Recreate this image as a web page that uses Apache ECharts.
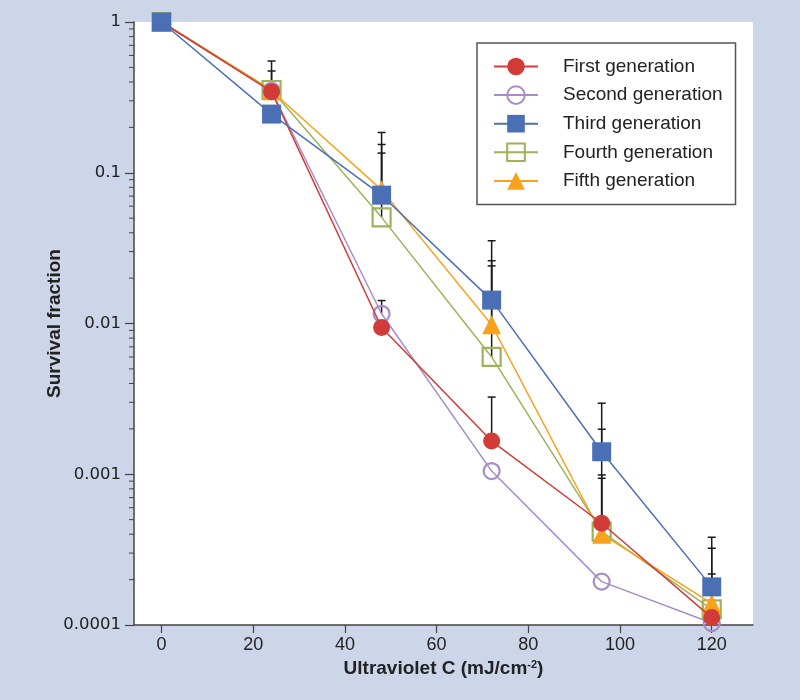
<!DOCTYPE html>
<html>
<head>
<meta charset="utf-8">
<script src="https://cdn.jsdelivr.net/npm/echarts@6/dist/echarts.min.js"></script>
<style>
  html, body { margin: 0; padding: 0; background: #cdd5e8; }
  #chart { width: 800px; height: 700px; }
</style>
</head>
<body>
<div id="chart"></div>
<script>
// ---- data ----
const doses = [0, 24, 48, 72, 96, 120];
const seriesNames = ['First generation', 'Second generation', 'Third generation', 'Fourth generation', 'Fifth generation'];
const firstGen  = [1, 0.345, 0.0094, 0.00166, 0.000473, 0.000112];
const secondGen = [1, 0.35, 0.0116, 0.00105, 0.000194, 0.000103];
const thirdGen  = [1, 0.245, 0.071, 0.0143, 0.00141, 0.000179];
const fourthGen = [1, 0.354, 0.0506, 0.0060, 0.000416, 0.000127];
const fifthGen  = [1, 0.35, 0.077, 0.0098, 0.0004, 0.000139];
// upper ends of the (one-sided) error bars
const firstUpper  = [null, 0.473, null, 0.00325, 0.00099, null];
const secondUpper = [null, null, 0.0142, null, null, 0.000218];
const thirdUpper  = [null, null, 0.185, 0.0354, 0.00296, 0.000382];
const fourthUpper = [null, 0.551, 0.135, 0.0241, 0.00199, null];
const fifthUpper  = [null, null, 0.154, 0.0261, 0.00094, 0.000323];
const xTickValues = [0, 20, 40, 60, 80, 100, 120];
const yTickValues = [0.0001, 0.001, 0.01, 0.1, 1];
const yTickLabels = ['0.0001', '0.001', '0.01', '0.1', '1'];
const X_MIN = -6, X_MAX = 129;

// ---- build ----
const values = [firstGen, secondGen, thirdGen, fourthGen, fifthGen];
const uppers = [firstUpper, secondUpper, thirdUpper, fourthUpper, fifthUpper];
const colors = ['#d13b38', '#a88cc8', '#4a6fb5', '#9db25b', '#f8a21c'];
const symbols = ['circle', 'circle', 'rect', 'rect', 'triangle'];
const sizes = [17, 16, 19, 18, 19];
const hollow = [false, true, false, true, false];
const zs = [6, 3, 7, 4, 5];

const errData = [];
values.forEach((vals, i) => {
  vals.forEach((v, j) => {
    if (uppers[i][j] != null) errData.push([doses[j], v, uppers[i][j]]);
  });
});

const minorData = [];
for (let k = 0; k < yTickValues.length - 1; k++) {
  for (let m = 2; m <= 9; m++) minorData.push([X_MIN, yTickValues[k] * m]);
}

const lineSeries = values.map((vals, i) => ({
  name: seriesNames[i],
  type: 'line',
  z: zs[i],
  color: colors[i],
  data: doses.map((d, j) => [d, vals[j]]),
  symbol: symbols[i],
  symbolSize: sizes[i],
  showAllSymbol: true,
  lineStyle: { color: colors[i], width: 1.5 },
  itemStyle: hollow[i]
    ? { color: 'rgba(255,255,255,0)', borderColor: colors[i], borderWidth: 2.2 }
    : { color: colors[i], borderWidth: 0 },
  emphasis: { disabled: true }
}));

const chart = echarts.init(document.getElementById('chart'), null, { renderer: 'canvas' });
chart.setOption({
  animation: false,
  backgroundColor: '#cdd5e8',
  grid: { left: 134, right: 47, top: 22, bottom: 75, show: true, backgroundColor: '#ffffff', borderWidth: 0 },
  legend: {
    orient: 'vertical',
    left: 477, top: 43,
    data: seriesNames,
    backgroundColor: '#ffffff',
    borderColor: '#555',
    borderWidth: 1.5,
    borderRadius: 0,
    padding: [14, 13, 14, 16],
    itemWidth: 44,
    itemHeight: 22,
    itemGap: 9.3,
    textStyle: { fontFamily: 'Liberation Sans, Arial, sans-serif', fontSize: 19, color: '#222', padding: [0, 0, 0, 20] }
  },
  xAxis: {
    type: 'value',
    min: X_MIN, max: X_MAX,
    name: '{a|Ultraviolet C (mJ/cm}{s|-2}{a|)}',
    nameLocation: 'middle',
    nameGap: 34,
    nameTextStyle: {
      rich: {
        a: { fontFamily: 'Liberation Sans, Arial', fontWeight: 'bold', fontSize: 19, color: '#222' },
        s: { fontFamily: 'Liberation Sans, Arial', fontWeight: 'bold', fontSize: 11, color: '#222', verticalAlign: 'top', padding: [0, 0, 8, 0] }
      }
    },
    splitLine: { show: false },
    axisLine: { onZero: false, lineStyle: { color: '#444', width: 1.5 } },
    axisTick: { customValues: xTickValues, length: 8, lineStyle: { color: '#444', width: 1.2 } },
    axisLabel: { customValues: xTickValues, fontFamily: 'Liberation Sans, Arial', fontSize: 18, color: '#222', margin: 11 }
  },
  yAxis: {
    type: 'log',
    logBase: 10,
    min: 0.0001, max: 1,
    name: 'Survival fraction',
    nameLocation: 'middle',
    nameGap: 70,
    nameMoveOverlap: false,
    nameTextStyle: { fontFamily: 'Liberation Sans, Arial', fontWeight: 'bold', fontSize: 19, color: '#222' },
    splitLine: { show: false },
    axisLine: { show: true, onZero: false, lineStyle: { color: '#444', width: 1.5 } },
    axisTick: { length: 9, lineStyle: { color: '#444', width: 1.2 } },
    axisLabel: {
      fontFamily: 'DejaVu Sans, Verdana, sans-serif', fontSize: 16.5, color: '#222', margin: 13,
      formatter: function (v) {
        for (let i = 0; i < yTickValues.length; i++) {
          if (Math.abs(Math.log10(v) - Math.log10(yTickValues[i])) < 1e-6) return yTickLabels[i];
        }
        return '';
      }
    }
  },
  series: [
    {
      type: 'custom',
      name: 'minorTicks',
      z: 1,
      clip: false,
      silent: true,
      data: minorData,
      encode: { x: 0, y: 1 },
      renderItem: function (params, api) {
        const p = api.coord([api.value(0), api.value(1)]);
        return { type: 'line', shape: { x1: p[0] - 5, y1: p[1], x2: p[0], y2: p[1] }, style: { stroke: '#444', lineWidth: 1 } };
      }
    },
    {
      type: 'custom',
      name: 'errorBars',
      z: 2,
      clip: false,
      silent: true,
      data: errData,
      encode: { x: 0, y: [1, 2] },
      renderItem: function (params, api) {
        const p0 = api.coord([api.value(0), api.value(1)]);
        const p1 = api.coord([api.value(0), api.value(2)]);
        const st = { stroke: '#1a1a1a', lineWidth: 1.5 };
        return {
          type: 'group',
          children: [
            { type: 'line', shape: { x1: p0[0], y1: p0[1], x2: p1[0], y2: p1[1] }, style: st },
            { type: 'line', shape: { x1: p1[0] - 4, y1: p1[1], x2: p1[0] + 4, y2: p1[1] }, style: st }
          ]
        };
      }
    }
  ].concat(lineSeries)
});
</script>
</body>
</html>
